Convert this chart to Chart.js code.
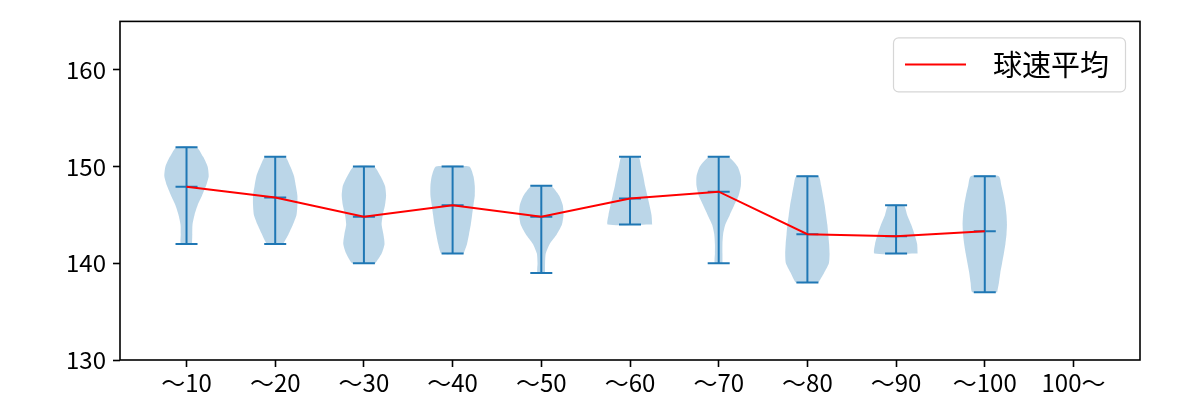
<!DOCTYPE html>
<html>
<head>
<meta charset="utf-8">
<script src="https://cdn.jsdelivr.net/npm/chart.js@4.4.1/dist/chart.umd.min.js"></script>
<style>
  html, body { margin: 0; padding: 0; background: #fff; }
  #wrap { width: 1200px; height: 400px; }
</style>
</head>
<body>
<div id="wrap"><canvas id="violin-chart" width="1200" height="400"></canvas></div>
<script>
// categories and tick labels
var categories = ['〜10', '〜20', '〜30', '〜40', '〜50', '〜60', '〜70', '〜80', '〜90', '〜100', '100〜'];
var yTicks = [130, 140, 150, 160];

// per-category speed stats (km/h)
var maxVals  = [152, 151, 150, 150, 148, 151, 151, 149, 146, 149];
var minVals  = [142, 142, 140, 141, 139, 144, 140, 138, 141, 137];
var meanVals = [147.9, 146.8, 144.8, 146.0, 144.8, 146.7, 147.4, 143.0, 142.8, 143.3];

// relative density, evenly spaced from min to max of each group
var density10  = [0.25, 0.26, 0.27, 0.36, 0.50, 0.70, 0.88, 1.00, 0.95, 0.75, 0.45];
var density20  = [0.36, 0.60, 0.80, 0.96, 1.00, 1.00, 0.93, 0.85, 0.68, 0.44];
var density30  = [0.52, 0.80, 0.93, 0.88, 0.80, 0.85, 0.95, 1.00, 0.95, 0.75, 0.45];
var density40  = [0.50, 0.65, 0.74, 0.82, 0.88, 0.94, 1.00, 1.00, 0.94, 0.75];
var density50  = [0.17, 0.17, 0.20, 0.38, 0.70, 0.93, 1.00, 0.97, 0.80, 0.42];
var density60  = [1.00, 0.97, 0.88, 0.78, 0.68, 0.60, 0.50, 0.38];
var density70  = [0.17, 0.17, 0.17, 0.20, 0.30, 0.50, 0.70, 0.90, 1.00, 1.00, 0.85, 0.42];
var density80  = [0.50, 0.75, 0.97, 1.00, 0.98, 0.94, 0.90, 0.84, 0.78, 0.70, 0.62, 0.50];
var density90  = [0.97, 0.95, 0.83, 0.68, 0.50, 0.35];
var density100 = [0.56, 0.64, 0.70, 0.78, 0.86, 0.93, 0.98, 1.00, 0.98, 0.93, 0.85, 0.75, 0.63];
var densities = [density10, density20, density30, density40, density50, density60, density70, density80, density90, density100];

var blue = '#1f77b4';
var halfWidth = 0.25; // violin half width in x units

function violinOutline(i) {
    var d = densities[i];
    var p = i + 1;
    var step = (maxVals[i] - minVals[i]) / (d.length - 1);
    var pts = [];
    for (var k = 0; k < d.length; k++) {
        pts.push({x: p + halfWidth * d[k], y: minVals[i] + k * step});
    }
    for (var k = d.length - 1; k >= 0; k--) {
        pts.push({x: p - halfWidth * d[k], y: minVals[i] + k * step});
    }
    pts.push(pts[0]);
    return pts;
}

var meanLine = meanVals.map(function (v, i) { return {x: i + 1, y: v}; });

var barPoints = [];
var capPoints = [];
for (var i = 0; i < meanVals.length; i++) {
    barPoints.push({x: i + 1, y: minVals[i]}, {x: i + 1, y: maxVals[i]}, {x: i + 1, y: null});
    capPoints.push({x: i + 1, y: minVals[i]}, {x: i + 1, y: maxVals[i]}, {x: i + 1, y: meanVals[i]});
}

var datasets = [{
    label: '球速平均',
    data: meanLine,
    showLine: true,
    borderColor: '#ff0000',
    borderWidth: 2,
    pointRadius: 0,
    tension: 0
}, {
    label: 'caps',
    data: capPoints,
    showLine: false,
    pointStyle: 'line',
    pointRadius: 11,
    borderColor: blue,
    borderWidth: 2
}, {
    label: 'bars',
    data: barPoints,
    showLine: true,
    spanGaps: false,
    borderColor: blue,
    borderWidth: 2,
    pointRadius: 0
}];

for (var i = 0; i < densities.length; i++) {
    datasets.push({
        label: 'violin' + i,
        data: violinOutline(i),
        showLine: true,
        fill: 'shape',
        backgroundColor: 'rgba(31,119,180,0.3)',
        borderColor: 'rgba(0,0,0,0)',
        borderWidth: 0,
        pointRadius: 0,
        tension: 0.2
    });
}

// frame around the plot area
var framePlugin = {
    id: 'frame',
    afterDraw: function (chart) {
        var a = chart.chartArea, ctx = chart.ctx;
        ctx.save();
        ctx.strokeStyle = '#000';
        ctx.lineWidth = 1.6;
        ctx.strokeRect(a.left, a.top, a.right - a.left, a.bottom - a.top);
        ctx.restore();
    }
};

// matplotlib style legend box, top right
var legendPlugin = {
    id: 'boxLegend',
    afterDraw: function (chart) {
        var ctx = chart.ctx, a = chart.chartArea;
        var ds = chart.data.datasets[0];
        var w = 232, h = 54;
        var x = a.right - 15 - w, y = a.top + 16;
        ctx.save();
        ctx.beginPath();
        ctx.roundRect(x + 0.5, y + 0.5, w, h, 5);
        ctx.fillStyle = 'rgba(255,255,255,0.8)';
        ctx.fill();
        ctx.strokeStyle = '#d6d6d6';
        ctx.lineWidth = 1.2;
        ctx.stroke();
        ctx.beginPath();
        ctx.moveTo(x + 12, y + h / 2);
        ctx.lineTo(x + 73, y + h / 2);
        ctx.strokeStyle = ds.borderColor;
        ctx.lineWidth = 2;
        ctx.stroke();
        ctx.fillStyle = '#000';
        ctx.font = '29px "Noto Sans CJK JP"';
        ctx.textBaseline = 'middle';
        ctx.fillText(ds.label, x + 100, y + h / 2 + 1);
        ctx.restore();
    }
};

var ctx = document.getElementById('violin-chart').getContext('2d');
var chart = new Chart(ctx, {
    type: 'scatter',
    data: {datasets: datasets},
    options: {
        responsive: false,
        animation: false,
        events: [],
        layout: {padding: {left: 0, right: 60, top: 19, bottom: 0}},
        plugins: {legend: {display: false}, tooltip: {enabled: false}},
        scales: {
            x: {
                type: 'linear',
                min: 0.25,
                max: 11.75,
                afterBuildTicks: function (scale) {
                    scale.ticks = categories.map(function (c, i) { return {value: i + 1}; });
                },
                afterFit: function (scale) { scale.height = 40; },
                grid: {display: true, drawOnChartArea: false, drawTicks: true, tickLength: 7, tickWidth: 1.6, tickColor: '#000'},
                border: {display: false},
                ticks: {
                    autoSkip: false,
                    maxRotation: 0,
                    padding: 1,
                    color: '#000',
                    font: {family: '"Noto Sans CJK JP"', size: 24},
                    callback: function (v) { return categories[Math.round(v) - 1]; }
                }
            },
            y: {
                min: 130,
                max: 165,
                afterBuildTicks: function (scale) {
                    scale.ticks = yTicks.map(function (v) { return {value: v}; });
                },
                afterFit: function (scale) { scale.width = 120; },
                grid: {display: true, drawOnChartArea: false, drawTicks: true, tickLength: 7, tickWidth: 1.6, tickColor: '#000'},
                border: {display: false},
                ticks: {
                    padding: 7,
                    color: '#000',
                    font: {family: '"Noto Sans CJK JP"', size: 24}
                }
            }
        }
    },
    plugins: [framePlugin, legendPlugin]
});
</script>
</body>
</html>
